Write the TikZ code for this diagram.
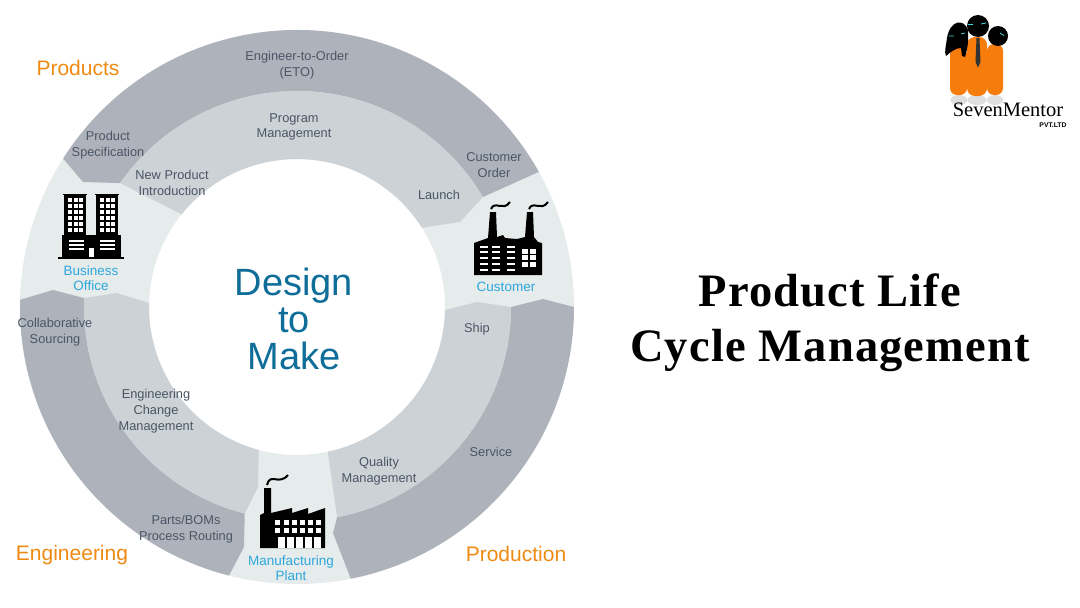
\documentclass[tikz,border=0pt]{standalone}
\usepackage{fontspec}
\setmainfont{Liberation Sans}
\newfontfamily\titlefont[LetterSpace=2.5]{Liberation Serif}
\newfontfamily\logofont{Liberation Serif}
\definecolor{ringlight}{HTML}{E6EBEC}
\definecolor{outersec}{HTML}{AEB3BB}
\definecolor{innersec}{HTML}{CDD2D6}
\definecolor{lbltext}{HTML}{4A5665}
\definecolor{sitetext}{HTML}{2EA7DC}
\definecolor{headtext}{HTML}{EF8A12}
\definecolor{centertext}{HTML}{0F6E99}
\definecolor{logoorange}{HTML}{F67C0C}
\definecolor{eyecyan}{HTML}{45D6DA}
\begin{document}
\begin{tikzpicture}[
  x=1pt, y=-1pt,
  outer/.style={fill=outersec},
  inner/.style={fill=innersec},
  lbl/.style={align=center, font=\fontsize{12.8}{15.8}\selectfont, text=lbltext, inner sep=0pt},
  site/.style={align=center, font=\fontsize{13.5}{15.5}\selectfont, text=sitetext, inner sep=0pt},
  head/.style={font=\fontsize{21}{24}\selectfont, text=headtext, inner sep=0pt},
  blk/.style={fill=black},
  wht/.style={fill=white},
  smoke/.style={draw=black, line width=2pt}
]
\useasboundingbox (0,0) rectangle (1080,608);
\fill[white] (0,0) rectangle (1080,608);

% ring
\begin{scope}[shift={(297,307)}]
\fill[ringlight, even odd rule] (0,0) circle[radius=277pt] (0,0) circle[radius=148pt];
% top
\fill[outer] (147.6:277pt) arc[start angle=147.6, end angle=29.2, radius=277pt] -- (30.6:216pt)
  arc[start angle=30.6, end angle=145, radius=216pt] -- (-214,-125) -- cycle;
\fill[inner] (145:216pt) arc[start angle=145, end angle=30.6, radius=216pt] -- (163,-85) -- (32.4:148pt)
  arc[start angle=32.4, end angle=141.2, radius=148pt] -- cycle;
% right
\fill[outer] (0:277pt) arc[start angle=0, end angle=-78.8, radius=277pt] -- (36,226) -- (-79.2:214pt)
  arc[start angle=-79.2, end angle=0, radius=214pt] -- (246,-8) -- cycle;
\fill[inner] (0:214pt) arc[start angle=0, end angle=-79.2, radius=214pt] -- (-78:148pt)
  arc[start angle=-78, end angle=-1.2, radius=148pt] -- (180,-5) -- cycle;
% left
\fill[outer] (178.5:277pt) arc[start angle=178.5, end angle=255.8, radius=277pt] -- (-53,240) -- (255.8:213pt)
  arc[start angle=255.8, end angle=177.6, radius=213pt] -- (-244,-17) -- cycle;
\fill[inner] (177.6:213pt) arc[start angle=177.6, end angle=255.8, radius=213pt] -- (-39,180) -- (255:148pt)
  arc[start angle=255, end angle=178.5, radius=148pt] -- (-180,-14) -- cycle;
\end{scope}

% customer
\begin{scope}[shift={(474,275)}, y=1pt]
\fill[blk] (0,0) -- (68,0) -- (68,32) -- (64,33) -- (60,38) -- (59,63) -- (53,63) -- (51,38) -- (43,36)
  -- (31,37) -- (29,40) -- (23,38) -- (22,63) -- (16,63) -- (14,37) -- (0,32) -- cycle;
\foreach \yy in {5,11,17,23,28} {
  \foreach \xx in {6,18,33} \fill[wht] (\xx,\yy-1.2) rectangle ++(8,2.4);
}
\foreach \yy in {8,15,21} {
  \foreach \xx in {48,56} \fill[wht] (\xx,\yy) rectangle ++(6,5);
}
\draw[smoke] (17,66) .. controls (21,75) and (29,63) .. (36,73);
\draw[smoke] (55,66) .. controls (59,75) and (67,63) .. (74,73);
\end{scope}

% business office
\begin{scope}[shift={(58,259)}, y=1pt]
\fill[blk] (0,0) rectangle (66,2);
\fill[blk] (4,2) rectangle (63,24);
\fill[blk] (6,24) rectangle (28,65);
\fill[blk] (38,24) rectangle (60,65);
\fill[blk] (5,64) rectangle (29,65.5);
\fill[blk] (37,64) rectangle (61,65.5);
\foreach \yy in {27,33,39,45,51,57} {
  \foreach \xx in {10,15.5,21,42,47.5,53} \fill[wht] (\xx,\yy) rectangle ++(4,4);
}
\foreach \yy in {9,13,17} {
  \foreach \xx in {11,42} \fill[wht] (\xx,\yy) rectangle ++(15,1.6);
}
\fill[wht] (31,2) rectangle (36,11);
\end{scope}

% plant
\begin{scope}[shift={(260,548)}, y=1pt]
\fill[blk] (0,0) -- (65,0) -- (65,40) -- (48,34) -- (48,40) -- (32,35) -- (32,40) -- (11,35) -- (11,60)
  -- (4,60) -- (4,35) -- (0,33) -- cycle;
\foreach \xx in {17.5,26,34.3,42.7,50.7,58.7} {
  \foreach \yy in {26,17.7} \fill[wht] (\xx-2.5,\yy-2.5) rectangle ++(5,5);
}
\foreach \i in {0,...,4} \fill[wht] (18+9*\i,0) rectangle ++(6.5,11);
\draw[smoke] (7,63) .. controls (10,76) and (19,62) .. (28,73);
\end{scope}

% logo
\foreach \xx/\ww in {959/17,977/19,995/16} \fill[gray!25] (\xx,100) ellipse[x radius=\ww/2, y radius=5];
\fill[logoorange, rounded corners=7pt] (950,48) rectangle (967,95);
\fill[logoorange, rounded corners=7pt] (987,44) rectangle (1003,95);
\fill[logoorange, rounded corners=8pt] (967,37) rectangle (987,96);
\fill[black!80] (976.5,38) -- (979.5,38) -- (980.5,62) -- (978,67.5) -- (975.5,62) -- cycle;
\fill[blk] (998,36) circle[radius=10pt];
\fill[blk] (978,26) circle[radius=11pt];
\fill[blk] (947,38) .. controls (950,20) and (964,18) .. (968,30) .. controls (969,42) and (967,50) .. (965,57)
  -- (962,56) -- (961,48) .. controls (955,48) and (951,52) .. (946,56) .. controls (944,52) and (946,46) .. (947,38) -- cycle;
\draw[eyecyan, line width=0.8pt] (968,24.5) -- (973,24.5) (981,24) -- (986,23);
\draw[eyecyan, line width=0.8pt] (949,36) -- (954,36) (961,34) -- (965,33);
\draw[eyecyan, line width=0.8pt] (1000,33) -- (1004,35.5);
\node[font=\logofont\fontsize{20.5}{22}\selectfont, inner sep=0pt] (logoname) at (1008,110) {SevenMentor};
\node[font=\bfseries\fontsize{6.8}{7}\selectfont, inner sep=0pt] (logoltd) at (1053,125) {PVT.LTD};

% headings
\node[head] (products) at (78,68) {Products};
\node[head] (engineering) at (72,555) {Engineering};
\node[head] (production) at (516,554) {Production};

% sector labels
\node[lbl] (eto) at (297,65) {Engineer-to-Order\\(ETO)};
\node[lbl] (program) at (294,127) {Program\\Management};
\node[lbl] (spec) at (108,145) {Product\\Specification};
\node[lbl] (npi) at (172,183) {New Product\\Introduction};
\node[lbl] (order) at (494,165) {Customer\\Order};
\node[lbl] (launch) at (439,195) {Launch};
\node[lbl] (ship) at (477,329) {Ship};
\node[lbl] (service) at (491,452) {Service};
\node[lbl] (quality) at (379,471) {Quality\\Management};
\node[lbl] (sourcing) at (55,332) {Collaborative\\Sourcing};
\node[lbl] (change) at (156,411) {Engineering\\Change\\Management};
\node[lbl] (parts) at (186,529) {Parts/BOMs\\Process Routing};

% sites
\node[site] (customer) at (506,287) {Customer};
\node[site] (office) at (91,278) {Business\\Office};
\node[site] (plant) at (291,568) {Manufacturing\\Plant};

\node[align=center, font=\fontsize{38}{37}\selectfont, text=centertext, inner sep=0pt] (design) at (294,319) {Design\\to\\Make};

\node[align=center, font=\titlefont\bfseries\fontsize{46.5}{55}\selectfont, inner sep=0pt] (title) at (830,323) {Product Life\\Cycle Management};
\end{tikzpicture}
\end{document}
